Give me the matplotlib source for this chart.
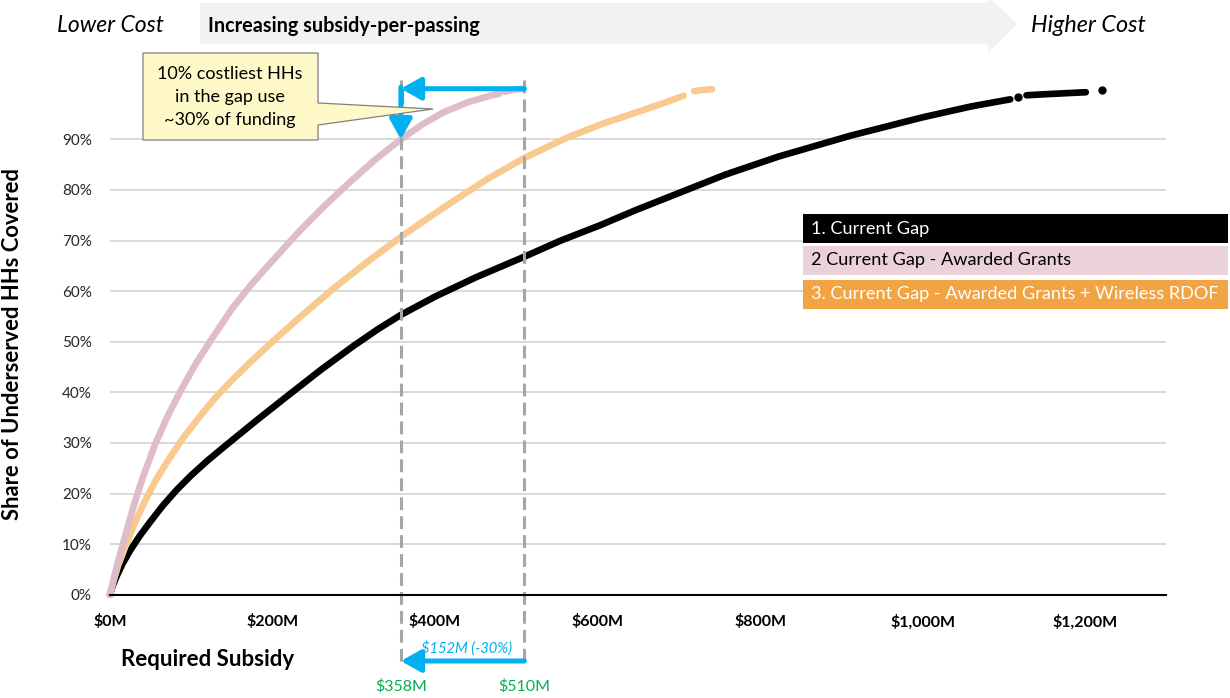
import matplotlib
matplotlib.use("Agg")
import matplotlib.pyplot as plt
import matplotlib.transforms as mtransforms
from matplotlib.patches import Polygon, Rectangle
from matplotlib.ticker import FixedLocator, FuncFormatter

plt.rcParams["font.family"] = ["Lato", "DejaVu Sans"]

# ---- data (required subsidy in $M, share of underserved HHs covered) ----
gap_x = [0, 3, 8, 15, 25, 37, 49, 65, 82, 100, 120, 144, 180, 217, 260, 300, 330,
         358, 400, 450, 510, 555, 603, 647, 691, 757, 823, 911, 999, 1060, 1108]
gap_y = [0, 0.016, 0.036, 0.06, 0.088, 0.117, 0.143, 0.176, 0.207, 0.236, 0.265,
         0.297, 0.344, 0.391, 0.445, 0.492, 0.525, 0.553, 0.589, 0.627, 0.668, 0.70,
         0.73, 0.76, 0.788, 0.83, 0.866, 0.907, 0.943, 0.965, 0.979]
gap_tail_x = [1128, 1150, 1175, 1201]
gap_tail_y = [0.987, 0.989, 0.991, 0.993]
gap_dots_x = [1117, 1221]
gap_dots_y = [0.983, 0.998]

grants_x = [0, 4, 9, 15, 22, 30, 40, 55, 70, 86, 105, 125, 150, 175, 200, 234, 265,
            295, 325, 358, 385, 410, 440, 470, 479]
grants_y = [0, 0.028, 0.06, 0.095, 0.135, 0.18, 0.23, 0.295, 0.35, 0.40, 0.455, 0.505,
            0.565, 0.615, 0.66, 0.72, 0.77, 0.815, 0.858, 0.90, 0.93, 0.953, 0.973,
            0.987, 0.99]
grants_tail_x = [486, 494, 502, 509]
grants_tail_y = [0.994, 0.997, 0.999, 1.0]

rdof_x = [0, 4, 10, 20, 30, 43, 56, 70, 90, 111, 130, 152, 175, 200, 234, 275, 316,
          363, 418, 465, 511, 562, 605, 644, 680, 706]
rdof_y = [0, 0.025, 0.058, 0.10, 0.14, 0.185, 0.225, 0.262, 0.31, 0.353, 0.39, 0.427,
          0.463, 0.50, 0.549, 0.605, 0.657, 0.713, 0.773, 0.822, 0.864, 0.903, 0.93,
          0.951, 0.971, 0.986]
rdof_tail_x = [719, 727, 734, 741]
rdof_tail_y = [0.995, 0.997, 0.998, 0.999]

x_ticks = [0, 200, 400, 600, 800, 1000, 1200]
y_ticks = [0, 0.1, 0.2, 0.3, 0.4, 0.5, 0.6, 0.7, 0.8, 0.9]

cut_from, cut_to = 510, 358
saving_label = "$152M (-30%)"

series_names = ["1. Current Gap", "2 Current Gap - Awarded Grants",
                "3. Current Gap - Awarded Grants + Wireless RDOF"]

C_GAP = "#000000"
C_GRANTS = "#DFBCCB"
C_RDOF = "#F8CA90"
C_BLUE = "#00B0F0"
C_GREEN = "#00B050"

# ---- figure & axes ----
W, H = 1230, 698
fig = plt.figure(figsize=(W / 100, H / 100), dpi=100)
# pixel coordinates measured from the top-left corner
px = mtransforms.Affine2D().scale(1 / W, -1 / H).translate(0, 1) + fig.transFigure

x0, x1, y0, y1 = 110, 1166.25, 594.7, 88.7
ax = fig.add_axes([x0 / W, 1 - y0 / H, (x1 - x0) / W, (y0 - y1) / H])
ax.set_xlim(0, 1300)
ax.set_ylim(0, 1.0)

for s in ["top", "right", "left"]:
    ax.spines[s].set_visible(False)
ax.spines["bottom"].set_color("black")
ax.spines["bottom"].set_linewidth(1.5)
ax.spines["bottom"].set_zorder(6)

ax.xaxis.set_major_locator(FixedLocator(x_ticks))
ax.xaxis.set_major_formatter(FuncFormatter(lambda v, p: f"${v:,.0f}M"))
ax.yaxis.set_major_locator(FixedLocator(y_ticks))
ax.yaxis.set_major_formatter(FuncFormatter(lambda v, p: f"{v * 100:.0f}%"))
ax.tick_params(axis="x", length=0, pad=14, labelsize=11.5, labelcolor="black")
ax.tick_params(axis="y", length=0, pad=13, labelsize=11, labelcolor="#262626")
for lab in ax.get_xticklabels():
    lab.set_fontweight("bold")

for v in y_ticks[1:]:
    ax.axhline(v, color="#D9D9D9", lw=1.4, zorder=0)

# ---- curves ----
lw = 4.8
line_kw = dict(lw=lw, solid_capstyle="round", solid_joinstyle="round", clip_on=False)
dot_kw = dict(s=36, lw=0, clip_on=False)
ax.plot(gap_x, gap_y, color=C_GAP, zorder=2, **line_kw)
ax.plot(gap_tail_x, gap_tail_y, color=C_GAP, zorder=2, **line_kw)
ax.scatter(gap_dots_x, gap_dots_y, color=C_GAP, zorder=2, **dot_kw)
ax.plot(rdof_x, rdof_y, color=C_RDOF, zorder=3, **line_kw)
ax.plot(rdof_tail_x, rdof_tail_y, color=C_RDOF, zorder=3, **line_kw)
ax.plot(grants_x, grants_y, color=C_GRANTS, zorder=4, **line_kw)
ax.plot(grants_tail_x, grants_tail_y, color=C_GRANTS, zorder=4, **line_kw)

# ---- dashed reference lines ----
bx = mtransforms.blended_transform_factory(ax.transData, px)
for xv in (cut_to, cut_from):
    ax.plot([xv, xv], [80, 665], transform=bx, color="#A6A6A6", lw=2.2,
            linestyle=(0, (4.2, 2.0)), zorder=5, clip_on=False)

# ---- blue arrows ----
head = dict(arrowstyle="-|>,head_length=0.8,head_width=0.45", mutation_scale=15,
            color=C_BLUE, lw=3.6, shrinkA=0, shrinkB=0)
ax.annotate("", xy=(cut_to, 1.0), xytext=(cut_from, 1.0), arrowprops=head,
            annotation_clip=False, zorder=7)
ax.plot([cut_to, cut_to], [1.0, 0.97], color=C_BLUE, lw=3.6, zorder=7,
        solid_capstyle="butt", clip_on=False)
ax.annotate("", xy=(cut_to, 0.90), xytext=(cut_to, 1.003), arrowprops=head,
            annotation_clip=False, zorder=7)
ax.annotate("", xy=(cut_to, 661), xytext=(cut_from, 661), xycoords=bx,
            textcoords=bx, arrowprops=head, annotation_clip=False, zorder=7)
ax.text((cut_to + cut_from) / 2 + 5, 648, saving_label, transform=bx, color=C_BLUE,
        fontsize=10.6, style="italic", ha="center", va="center")
ax.text(cut_to, 686, f"${cut_to}M", transform=bx, color=C_GREEN, fontsize=11.5,
        ha="center", va="center")
ax.text(cut_from, 686, f"${cut_from}M", transform=bx, color=C_GREEN, fontsize=11.5,
        ha="center", va="center")

# ---- axis titles ----
fig.text(208 / W, 1 - 660 / H, "Required Subsidy", fontsize=16, fontweight="bold",
         ha="center", va="center")
fig.text(13 / W, 1 - 344 / H, "Share of Underserved HHs Covered", fontsize=15.8,
         fontweight="bold", rotation=90, ha="center", va="center")

# ---- header arrow ----
arrow_pts = [(200, 3), (988, 3), (988, -4), (1017, 24), (988, 53), (988, 44), (200, 44)]
fig.patches.append(Polygon(arrow_pts, closed=True, transform=px, facecolor="#F2F2F2",
                           edgecolor="none", zorder=0))
fig.text(208 / W, 1 - 26 / H, "Increasing subsidy-per-passing", fontsize=14.3,
         fontweight="bold", ha="left", va="center")
fig.text(110 / W, 1 - 26 / H, "Lower Cost", fontsize=16.5, style="italic",
         ha="center", va="center")
fig.text(1088 / W, 1 - 26 / H, "Higher Cost", fontsize=16.8, style="italic",
         ha="center", va="center")

# ---- callout ----
callout = [(143, 53), (318, 53), (318, 103), (433, 109), (318, 125), (318, 140), (143, 140)]
fig.patches.append(Polygon(callout, closed=True, transform=px, facecolor="#FFF8C8",
                           edgecolor="#808080", lw=0.9, zorder=8))
for i, line in enumerate(["10% costliest HHs", "in the gap use", "~30% of funding"]):
    fig.text(230 / W, 1 - (74 + 23 * i) / H, line, fontsize=13, ha="center",
             va="center", zorder=9)

# ---- legend boxes ----
legend_rows = [(214, "#000000", "white"), (246, "#EAD1DC", "black"), (280, "#F2A444", "white")]
for (top, face, tc), name in zip(legend_rows, series_names):
    fig.patches.append(Rectangle((803, top), 425, 29, transform=px, facecolor=face,
                                 edgecolor="none", zorder=8))
    fig.text(811 / W, 1 - (top + 14.5) / H, name, color=tc, fontsize=13.1,
             ha="left", va="center", zorder=9)

fig.savefig("out.png", dpi=100)
